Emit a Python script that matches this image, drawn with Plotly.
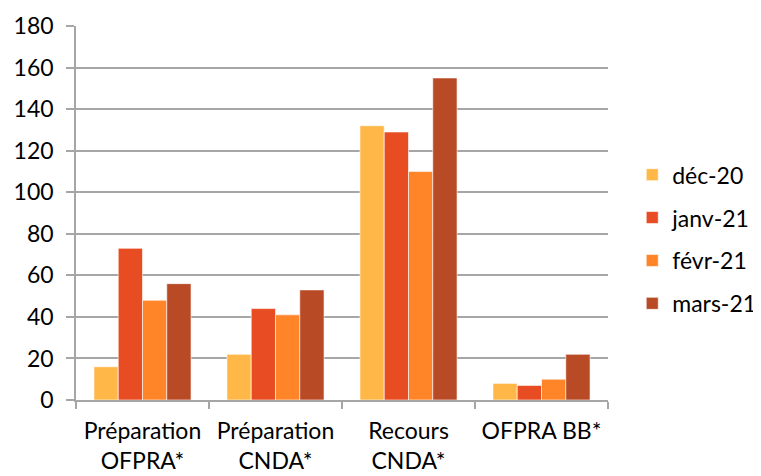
import plotly.graph_objects as go

categories = ["Préparation<br>OFPRA*", "Préparation<br>CNDA*", "Recours<br>CNDA*", "OFPRA BB*"]
series_names = ["déc-20", "janv-21", "févr-21", "mars-21"]
dec20 = [16, 22, 132, 8]
janv21 = [73, 44, 129, 7]
fevr21 = [48, 41, 110, 10]
mars21 = [56, 53, 155, 22]
colors = ["#FFB847", "#E84C22", "#FF8528", "#B84A26"]

fig = go.Figure()
for name, vals, col in zip(series_names, [dec20, janv21, fevr21, mars21], colors):
    fig.add_trace(go.Bar(
        x=categories, y=vals, name=name, legendgroup=name,
        marker=dict(color=col, line=dict(color="rgba(255,255,255,0.6)", width=1)),
    ))

font_family = "Lato, Open Sans, sans-serif"
fig.update_layout(
    width=753, height=468,
    margin=dict(l=68, r=153, t=18, b=76),
    paper_bgcolor="white", plot_bgcolor="white",
    barmode="group", bargap=0.27, bargroupgap=0,
    font=dict(family=font_family, size=23, color="#000000"),
    legend=dict(xref="container", yref="container", x=0.829, xanchor="left",
                y=0.506, yanchor="middle",
                font=dict(size=23), tracegroupgap=10, traceorder="grouped"),
    xaxis=dict(type="category", showline=True, linecolor="#A6A6A6", linewidth=1.5,
               ticks="outside", tickson="boundaries", ticklen=7, tickcolor="#A6A6A6",
               tickwidth=1.5, showgrid=False, tickfont=dict(size=23), tickangle=0,
               ticklabelstandoff=10, automargin=False),
    yaxis=dict(range=[0, 180], dtick=20, showline=True, linecolor="#A6A6A6", linewidth=1.5,
               ticks="outside", ticklen=8, tickcolor="#A6A6A6", tickwidth=1.5,
               showgrid=True, gridcolor="#A6A6A6", gridwidth=1.5, zeroline=False,
               tickfont=dict(size=23), ticklabelstandoff=8, automargin=False),
)
fig.write_html("out.html")
